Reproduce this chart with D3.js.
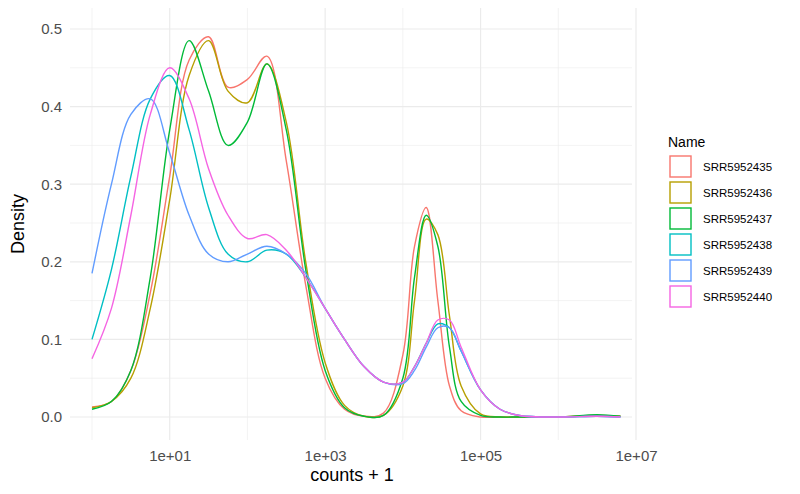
<!DOCTYPE html>
<html>
<head>
<meta charset="utf-8">
<script src="https://cdn.jsdelivr.net/npm/d3@7"></script>
<style>
  body { margin: 0; background: #fff; }
  text { font-family: "Liberation Sans", "DejaVu Sans", sans-serif; }
</style>
</head>
<body>
<svg width="800" height="494"></svg>
<script>
// log10(counts + 1) sample positions
const logCounts = [0, 0.25, 0.5, 0.75, 1.0, 1.25, 1.5, 1.75, 2.0, 2.25, 2.5, 2.75, 3.0, 3.25,
  3.5, 3.75, 4.0, 4.15, 4.3, 4.45, 4.6, 4.75, 5.0, 5.25, 5.5, 6.0, 6.5, 6.8];

const names = ['SRR5952435', 'SRR5952436', 'SRR5952437', 'SRR5952438', 'SRR5952439', 'SRR5952440'];
const colors = ['#F8766D', '#B79F00', '#00BA38', '#00BFC4', '#619CFF', '#F564E3'];

const srr35 = [0.013, 0.02, 0.06, 0.16, 0.31, 0.46, 0.49, 0.425, 0.435, 0.465, 0.33, 0.17, 0.05, 0.01,
  0.001, 0.005, 0.08, 0.22, 0.27, 0.15, 0.04, 0.008, 0.0, 0.0, 0.0, 0.0, 0.002, 0.001];
const srr36 = [0.012, 0.02, 0.05, 0.14, 0.28, 0.44, 0.485, 0.42, 0.405, 0.455, 0.38, 0.20, 0.07, 0.015,
  0.001, 0.002, 0.04, 0.15, 0.255, 0.235, 0.13, 0.04, 0.004, 0.0, 0.0, 0.0, 0.002, 0.001];
const srr37 = [0.01, 0.02, 0.06, 0.18, 0.37, 0.485, 0.42, 0.35, 0.38, 0.455, 0.37, 0.19, 0.06, 0.012,
  0.001, 0.002, 0.05, 0.18, 0.26, 0.22, 0.09, 0.02, 0.002, 0.0, 0.0, 0.0, 0.003, 0.001];
const srr38 = [0.10, 0.19, 0.31, 0.41, 0.44, 0.37, 0.27, 0.21, 0.20, 0.215, 0.21, 0.18, 0.14, 0.10,
  0.065, 0.045, 0.045, 0.065, 0.095, 0.12, 0.115, 0.085, 0.035, 0.01, 0.002, 0.0, 0.001, 0.0];
const srr39 = [0.185, 0.30, 0.39, 0.41, 0.34, 0.26, 0.21, 0.20, 0.21, 0.22, 0.21, 0.185, 0.14, 0.10,
  0.065, 0.045, 0.043, 0.06, 0.09, 0.115, 0.115, 0.085, 0.035, 0.01, 0.002, 0.0, 0.001, 0.0];
const srr40 = [0.075, 0.14, 0.26, 0.39, 0.45, 0.41, 0.32, 0.26, 0.23, 0.235, 0.215, 0.18, 0.14, 0.10,
  0.065, 0.045, 0.045, 0.065, 0.095, 0.125, 0.125, 0.09, 0.035, 0.01, 0.002, 0.0, 0.001, 0.0];
const series = [srr35, srr36, srr37, srr38, srr39, srr40];

const xTicks = [1, 3, 5, 7];
const xTickLabels = ['1e+01', '1e+03', '1e+05', '1e+07'];
const yTicks = [0, 0.1, 0.2, 0.3, 0.4, 0.5];

const svg = d3.select('svg');
const pLeft = 70, pRight = 632, pTop = 8, pBottom = 440;

const x = d3.scaleLinear().domain([0, 7]).range([92, 636]);
const y = d3.scaleLinear().domain([0, 0.5]).range([417, 29]);

// grid
const grid = svg.append('g');
const xMinor = [0, 2, 4, 6];
grid.selectAll('.xminor').data(xMinor).enter().append('line')
    .attr('x1', (d) => x(d)).attr('x2', (d) => x(d))
    .attr('y1', pTop).attr('y2', pBottom)
    .attr('stroke', '#ebebeb').attr('stroke-width', 0.6);
grid.selectAll('.yminor').data([0.05, 0.15, 0.25, 0.35, 0.45]).enter().append('line')
    .attr('x1', pLeft).attr('x2', pRight)
    .attr('y1', (d) => y(d)).attr('y2', (d) => y(d))
    .attr('stroke', '#ebebeb').attr('stroke-width', 0.6);
grid.selectAll('.xmajor').data(xTicks).enter().append('line')
    .attr('x1', (d) => x(d)).attr('x2', (d) => x(d))
    .attr('y1', pTop).attr('y2', pBottom)
    .attr('stroke', '#ebebeb').attr('stroke-width', 1.2);
grid.selectAll('.ymajor').data(yTicks).enter().append('line')
    .attr('x1', pLeft).attr('x2', pRight)
    .attr('y1', (d) => y(d)).attr('y2', (d) => y(d))
    .attr('stroke', '#ebebeb').attr('stroke-width', 1.2);

// axes
const xAxis = svg.append('g').attr('transform', `translate(0,${pBottom})`)
    .call(d3.axisBottom(x).tickValues(xTicks).tickFormat((d, i) => xTickLabels[i]).tickSize(0).tickPadding(10));
const yAxis = svg.append('g').attr('transform', `translate(${pLeft},0)`)
    .call(d3.axisLeft(y).tickValues(yTicks).tickFormat(d3.format('.1f')).tickSize(0).tickPadding(8));
[xAxis, yAxis].forEach((a) => {
  a.select('.domain').remove();
  a.selectAll('text').attr('fill', '#4d4d4d').style('font-size', '15px');
});

// lines
const line = d3.line()
    .x((d, i) => x(logCounts[i]))
    .y((d) => y(Math.max(0, d)))
    .curve(d3.curveCatmullRom.alpha(0.5));
svg.selectAll('.series').data(series).enter().append('path')
    .attr('d', line)
    .attr('fill', 'none')
    .attr('stroke', (d, i) => colors[i])
    .attr('stroke-width', 1.4);

// axis titles
svg.append('text').attr('x', 352).attr('y', 481).attr('text-anchor', 'middle')
    .style('font-size', '18px').text('counts + 1');
svg.append('text').attr('transform', 'translate(24,224) rotate(-90)').attr('text-anchor', 'middle')
    .style('font-size', '18px').text('Density');

// legend
const legend = svg.append('g').attr('transform', 'translate(668,0)');
legend.append('text').attr('x', 0).attr('y', 147).style('font-size', '14px').text('Name');
const item = legend.selectAll('.item').data(names).enter().append('g')
    .attr('transform', (d, i) => `translate(0,${155 + i * 26})`);
item.append('rect').attr('x', 2).attr('y', 1).attr('width', 21).attr('height', 21)
    .attr('fill', 'none').attr('stroke', (d, i) => colors[i]).attr('stroke-width', 1.4);
item.append('text').attr('x', 35).attr('y', 16).style('font-size', '11.5px').text((d) => d);
</script>
</body>
</html>
